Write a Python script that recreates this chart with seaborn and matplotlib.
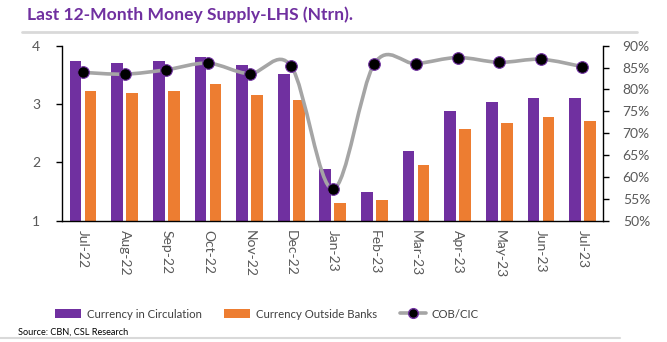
import numpy as np
import pandas as pd
import seaborn as sns
import matplotlib
matplotlib.use("Agg")
import matplotlib.pyplot as plt
from matplotlib.path import Path
from matplotlib.patches import PathPatch, Patch
from matplotlib.lines import Line2D

months = ["Jul-22", "Aug-22", "Sep-22", "Oct-22", "Nov-22", "Dec-22", "Jan-23",
          "Feb-23", "Mar-23", "Apr-23", "May-23", "Jun-23", "Jul-23"]
cic = [3.74, 3.71, 3.73, 3.80, 3.67, 3.51, 1.89, 1.49, 2.19, 2.88, 3.03, 3.10, 3.10]
cob = [3.22, 3.19, 3.23, 3.34, 3.15, 3.07, 1.30, 1.35, 1.955, 2.58, 2.68, 2.77, 2.71]
ratio = [83.9, 83.5, 84.5, 86.0, 83.6, 85.3, 57.2, 85.9, 85.9, 87.3, 86.2, 86.9, 85.2]
series_names = ["Currency in Circulation", "Currency Outside Banks"]
line_name = "COB/CIC"
title = "Last 12-Month Money Supply-LHS (Ntrn)."
source = "Source: CBN, CSL Research"

PURPLE = "#7030A0"
ORANGE = "#ED7D31"
GREY = "#A5A5A5"
TXT = "#595959"

sns.set_theme(style="white")
plt.rcParams["font.family"] = ["Lato", "DejaVu Sans"]

df = pd.DataFrame({
    "month": months * 2,
    "value": cic + cob,
    "series": [series_names[0]] * len(months) + [series_names[1]] * len(months),
})

fig = plt.figure(figsize=(6.67, 3.42), dpi=100)
W, H = 667, 342
x0, x1, ytop, ybot = 62.3, 603.3, 45.7, 220.7
ax = fig.add_axes([x0 / W, 1 - ybot / H, (x1 - x0) / W, (ybot - ytop) / H])
ax.set_facecolor("none")

sns.barplot(data=df, x="month", y="value", hue="series", order=months,
            hue_order=series_names, palette=[PURPLE, ORANGE], width=0.72,
            gap=0.22, saturation=1, ax=ax, legend=False, edgecolor="none")
ax.set_xlim(-0.5, len(months) - 0.5)
ax.set_ylim(1, 4)
ax.set_yticks([1, 2, 3, 4])
ax.set_xlabel("")
ax.set_ylabel("")

ax2 = ax.twinx()
ax2.set_ylim(50, 90)
xs = np.arange(len(months))
ys = np.array(ratio, dtype=float)

# smooth (Catmull-Rom as Bezier) rendering of the line
verts = [(xs[0], ys[0])]
codes = [Path.MOVETO]
t = 1 / 6.0
for i in range(len(xs) - 1):
    p0 = np.array([xs[max(i - 1, 0)], ys[max(i - 1, 0)]])
    p1 = np.array([xs[i], ys[i]])
    p2 = np.array([xs[i + 1], ys[i + 1]])
    p3 = np.array([xs[min(i + 2, len(xs) - 1)], ys[min(i + 2, len(xs) - 1)]])
    c1 = p1 + (p2 - p0) * t
    c2 = p2 - (p3 - p1) * t
    verts += [tuple(c1), tuple(c2), tuple(p2)]
    codes += [Path.CURVE4] * 3
ax2.add_patch(PathPatch(Path(verts, codes), fill=False, edgecolor=GREY, lw=2.6,
                        zorder=3, capstyle="round"))
sns.scatterplot(x=xs, y=ys, ax=ax2, color="black", edgecolor=PURPLE, linewidth=0.8,
                s=70, zorder=4, legend=False)
ax2.set_xlim(-0.5, len(months) - 0.5)
ax2.set_yticks(range(50, 91, 5))
ax2.set_yticklabels([f"{v}%" for v in range(50, 91, 5)])
ax2.set_ylabel("")

for a in (ax, ax2):
    for s in a.spines.values():
        s.set_visible(False)
ax.spines["left"].set_visible(True)
ax.spines["bottom"].set_visible(True)
ax2.spines["right"].set_visible(True)
for s in (ax.spines["left"], ax.spines["bottom"], ax2.spines["right"]):
    s.set_color("black")
    s.set_linewidth(1.0)

ax.set_xticks(xs)
ax.set_xticklabels(months, rotation=270, color=TXT, fontsize=10)
ax.set_xticks(np.arange(-0.5, len(months), 1), minor=True)
ax.tick_params(axis="x", which="major", length=0, pad=7)
ax.tick_params(axis="x", which="minor", length=4, width=1, color="black", direction="out")
ax.tick_params(axis="y", left=True, length=4, width=1, color="black", direction="out",
               labelcolor=TXT, labelsize=10, pad=12)
ax2.tick_params(axis="y", right=True, length=4, width=1, color="black", direction="out",
                labelcolor=TXT, labelsize=10, pad=10)
ax.grid(False)
ax2.grid(False)

fig.text(27 / W, 1 - 15 / H, title, color=PURPLE, fontsize=12.6, fontweight="bold",
         ha="left", va="center")
fig.add_artist(Line2D([22 / W, 637 / W], [1 - 32 / H, 1 - 32 / H], color="#D9D9D9", lw=2))
fig.add_artist(Line2D([0, 620 / W], [1 - 338 / H, 1 - 338 / H], color="#D9D9D9", lw=1.5))
fig.text(18 / W, 1 - 332 / H, source, color="black", fontsize=6.6, ha="left", va="center")

handles = [Patch(facecolor=PURPLE, edgecolor="none"),
           Patch(facecolor=ORANGE, edgecolor="none"),
           Line2D([], [], color=GREY, lw=2.6, marker="o", markersize=7,
                  markerfacecolor="black", markeredgecolor=PURPLE)]
fig.legend(handles, series_names + [line_name], loc="center", ncol=3,
           bbox_to_anchor=(0.40, 1 - 314 / H), frameon=False, fontsize=8.2,
           handlelength=2.3, handleheight=0.8, columnspacing=2.0, handletextpad=0.5,
           labelcolor="#404040")

fig.savefig("out.png", dpi=100)
